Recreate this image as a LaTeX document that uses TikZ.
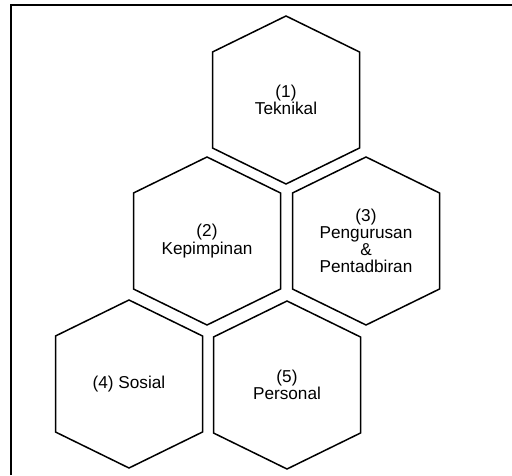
\documentclass[tikz,border=0pt]{standalone}
\usepackage{fontspec}
\setmainfont{Liberation Sans}
\usepackage{tikz}

\begin{document}
\begin{tikzpicture}[x=0.5pt, y=-0.5pt,
hextext/.style={align=center, font=\fontsize{8.6}{8.6}\selectfont, inner sep=0pt},
hex/.style={draw=black, line width=0.75pt, line join=miter}
]
\useasboundingbox (0,0) rectangle (512,475);
%Frame
\draw[line width=1pt] (11,475) -- (11,5) -- (512,5);
%Nodes
\node[hextext]   (teknikal)    at (286,100)   {(1)\\Teknikal};
\node[hextext]   (kepimpinan)  at (207,241)   {(2)\\Kepimpinan};
\node[hextext]   (pengurusan)  at (366,241)   {(3)\\Pengurusan\\\&\\Pentadbiran};
\node[hextext]   (sosial)      at (129,384)   {(4) Sosial};
\node[hextext]   (personal)    at (287,385)   {(5)\\Personal};
%Hexagons
\foreach \n in {teknikal,kepimpinan,pengurusan,sosial,personal}
  \draw[hex] ([shift={(0,-84)}]\n.center) -- ([shift={(73.5,-48)}]\n.center)
    -- ([shift={(73.5,48)}]\n.center) -- ([shift={(0,84)}]\n.center)
    -- ([shift={(-73.5,48)}]\n.center) -- ([shift={(-73.5,-48)}]\n.center) -- cycle;
\end{tikzpicture}
\end{document}
